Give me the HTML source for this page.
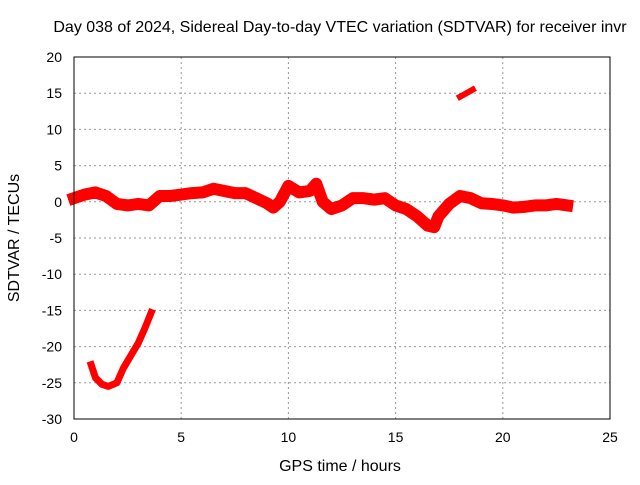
<!DOCTYPE html>
<html><head><meta charset="utf-8"><style>
body{margin:0;background:#fff}
text{font-family:"Liberation Sans",sans-serif;font-size:14px;fill:#000}
.big{font-size:16px}
</style></head><body>
<svg id="chart" width="640" height="480" xmlns="http://www.w3.org/2000/svg">
<text class="big" x="340" y="32" text-anchor="middle">Day 038 of 2024, Sidereal Day-to-day VTEC variation (SDTVAR) for receiver invr</text>
<text class="big" x="340" y="471" text-anchor="middle">GPS time / hours</text>
<text class="big" transform="translate(19,238) rotate(-90)" text-anchor="middle">SDTVAR / TECUs</text>
<g id="grid"></g><g id="ticks"></g><g id="series"></g>
<rect x="74" y="57" width="536" height="362" fill="none" stroke="#000" stroke-width="1"/>
</svg>
<script>
const xTicks=[0,5,10,15,20,25];
const yTicks=[20,15,10,5,0,-5,-10,-15,-20,-25,-30];
const mainHours=[0,0.5,1,1.5,2,2.5,3,3.5,4,4.5,5,5.5,6,6.5,7,7.5,8,8.5,9,9.3,9.6,10,10.5,11,11.3,11.6,12,12.5,13,13.5,14,14.5,15,15.5,16,16.5,16.8,17,17.5,18,18.5,19,19.5,20,20.5,21,21.5,22,22.5,23];
const mainValues=[0.5,1,1.3,0.8,-0.3,-0.5,-0.3,-0.5,0.8,0.8,1,1.2,1.3,1.8,1.5,1.2,1.2,0.5,-0.2,-0.8,0,2.2,1.3,1.5,2.5,0,-1,-0.5,0.5,0.5,0.3,0.5,-0.5,-1,-2,-3.3,-3.5,-2,-0.3,0.8,0.5,-0.2,-0.3,-0.5,-0.8,-0.7,-0.5,-0.5,-0.3,-0.5];
const lowHours=[0.8,1,1.3,1.6,2,2.3,2.7,3,3.3,3.6];
const lowValues=[-22.5,-24.3,-25.2,-25.5,-25,-23,-21,-19.5,-17.5,-15.3];
const highHours=[18,18.3,18.6];
const highValues=[14.5,15,15.5];
const X=h=>74+h*536/25, Y=v=>57+(20-v)*362/50;
const NS="http://www.w3.org/2000/svg";
function mk(t,a,p){const e=document.createElementNS(NS,t);for(const k in a)e.setAttribute(k,a[k]);document.getElementById(p).appendChild(e);return e;}
xTicks.forEach(t=>{
 if(t>0&&t<25){const g=mk('line',{x1:X(t),x2:X(t),y1:57,y2:419,stroke:'#999','stroke-dasharray':'2,3'},'grid');
 
 }
 const l=mk('text',{x:X(t),y:442,'text-anchor':'middle'},'ticks');l.textContent=t;
 
 
});
yTicks.forEach(t=>{
 if(t>-30&&t<20){const g=mk('line',{x1:74,x2:610,y1:Y(t),y2:Y(t),stroke:'#999','stroke-dasharray':'2,3'},'grid');
 
 }
 const l=mk('text',{x:62,y:Y(t)+5,'text-anchor':'end'},'ticks');l.textContent=t;
 
 
});
function series(hs,vs,w,name){
 const p=mk('polyline',{points:hs.map((h,i)=>X(h)+','+Y(vs[i])).join(' '),fill:'none',stroke:'#ff0000','stroke-width':w,'stroke-linejoin':'round','stroke-linecap':'square'},'series');
 
 
}
series(mainHours,mainValues,12,'main-series');
series(lowHours,lowValues,7,'early-low-series');
series(highHours,highValues,6,'late-high-series');
</script>
</body></html>
